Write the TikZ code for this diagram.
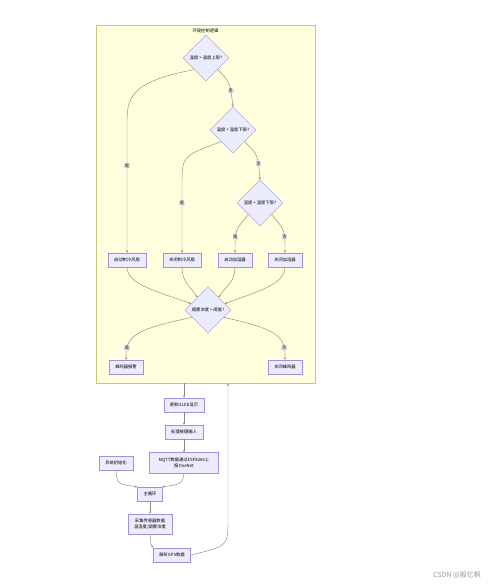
\documentclass[tikz,border=0pt]{standalone}
\usepackage{fontspec}
\setmainfont{Noto Sans CJK SC}
\usetikzlibrary{shapes.geometric,arrows.meta}
\definecolor{boxfill}{HTML}{ECECFF}
\definecolor{boxline}{HTML}{A58EE0}
\definecolor{sgfill}{HTML}{FFFFDE}
\definecolor{sgline}{HTML}{C8C87A}
\definecolor{edgecol}{HTML}{8A8A80}
\definecolor{lblbg}{HTML}{E8E8E8}
\newcommand{\nodefont}{\fontsize{4.3}{5.6}\selectfont}
\tikzset{
  proc/.style={draw=boxline, fill=boxfill, line width=0.45pt, minimum height=14pt,
    inner xsep=6pt, inner ysep=1pt, align=center, font=\nodefont},
  decide/.style={diamond, draw=boxline, fill=boxfill, line width=0.45pt,
    minimum size=46pt, inner sep=0pt, font=\nodefont},
  flow/.style={draw=edgecol, line width=0.45pt, -{Stealth[length=2.4pt,width=2.2pt]}},
  yn/.style={fill=lblbg, inner sep=0.6pt, font=\nodefont},
}

\begin{document}
\begin{tikzpicture}[x=1pt,y=-1pt]
    \useasboundingbox (0,0) rectangle (487,586);
    \fill[white] (0,0) rectangle (487,586);
    %--- 子图 ---
    \node[draw=sgline, fill=sgfill, line width=0.5pt, minimum width=219pt, minimum height=358pt, inner sep=0pt] (sg) at (205.5,204) {};
    \node[font=\nodefont, below=1pt] (sgtitle) at (sg.north) {环境控制逻辑};
    %--- 判断 ---
    \node[decide] (tmax) at (206,58) {温度 > 温度上限?};
    \node[decide] (tmin) at (233,130) {温度 < 温度下限?};
    \node[decide] (hmin) at (260,203) {湿度 < 湿度下限?};
    \node[proc] (fanon)  at (127,260) {启动制冷风扇};
    \node[proc] (fanoff) at (182,260) {关闭制冷风扇};
    \node[proc] (humon)  at (235,260) {启动加湿器};
    \node[proc] (humoff) at (285,260) {关闭加湿器};
    \node[decide] (smoke) at (208,310) {烟雾浓度 > 阈值?};
    \node[proc] (buzon)  at (126,367) {蜂鸣器报警};
    \node[proc] (buzoff) at (285,367) {关闭蜂鸣器};
    %--- 主流程 ---
    \node[proc] (oled) at (184,405) {更新OLED显示};
    \node[proc] (keys) at (184,432) {处理按键输入};
    \node[proc, minimum width=69pt, minimum height=21pt] (mqtt) at (184,463) {MQTT数据通过ESP8266上\\报OneNet};
    \node[proc] (init) at (116,463) {系统初始化};
    \node[proc] (loop) at (150,494) {主循环};
    \node[proc, minimum height=20pt] (sense) at (150,524) {采集传感器数据\\温湿度/烟雾浓度};
    \node[proc] (gps) at (172,555) {解析GPS数据};
    %--- 连线 ---
    \draw[flow] (tmax.south west) .. controls (127,82) and (127,100) .. (127,125) -- (fanon.north) node[yn,pos=0.32] {是};
    \draw[flow] (tmax.south east) .. controls (230,82) .. (tmin.north) node[yn,pos=0.72] {否};
    \draw[flow] (tmin.south west) .. controls (182,156) .. (182,185) -- (fanoff.north) node[yn,pos=0.27] {是};
    \draw[flow] (tmin.south east) .. controls (258,155) .. (hmin.north) node[yn,pos=0.72] {否};
    \draw[flow] (hmin.south west) .. controls (235,230) .. (humon.north) node[yn,pos=0.7] {是};
    \draw[flow] (hmin.south east) .. controls (285,230) .. (humoff.north) node[yn,pos=0.7] {否};
    \draw[flow] (fanon.south) .. controls (127,285) and (160,292) .. (smoke.160);
    \draw[flow] (fanoff.south) .. controls (182,282) and (190,286) .. (smoke.130);
    \draw[flow] (humon.south) .. controls (235,282) and (226,286) .. (smoke.50);
    \draw[flow] (humoff.south) .. controls (285,285) and (255,292) .. (smoke.20);
    \draw[flow] (smoke.205) .. controls (130,330) and (126,338) .. (buzon.north) node[yn,pos=0.8] {是};
    \draw[flow] (smoke.335) .. controls (282,330) and (285,338) .. (buzoff.north) node[yn,pos=0.8] {否};
    \draw[flow] (sg.south -| oled.north) -- (oled.north);
    \draw[flow] (oled) -- (keys);
    \draw[flow] (keys) -- (mqtt);
    \draw[flow] (mqtt.south) .. controls (182,484) .. (loop.north east);
    \draw[flow] (init.south) .. controls (117,484) .. (loop.north west);
    \draw[flow] (loop) -- (sense);
    \draw[flow] (sense.south) .. controls (151,545) .. (gps.north west);
    \draw[flow] (gps.east) .. controls (228,546) .. (228,520) -- ([xshift=22.5]sg.south);
    %--- 水印 ---
    \node[text=gray!80, font=\fontsize{7}{8}\selectfont] (mark) at (457,575) {CSDN @殷忆枫};
\end{tikzpicture}
\end{document}
